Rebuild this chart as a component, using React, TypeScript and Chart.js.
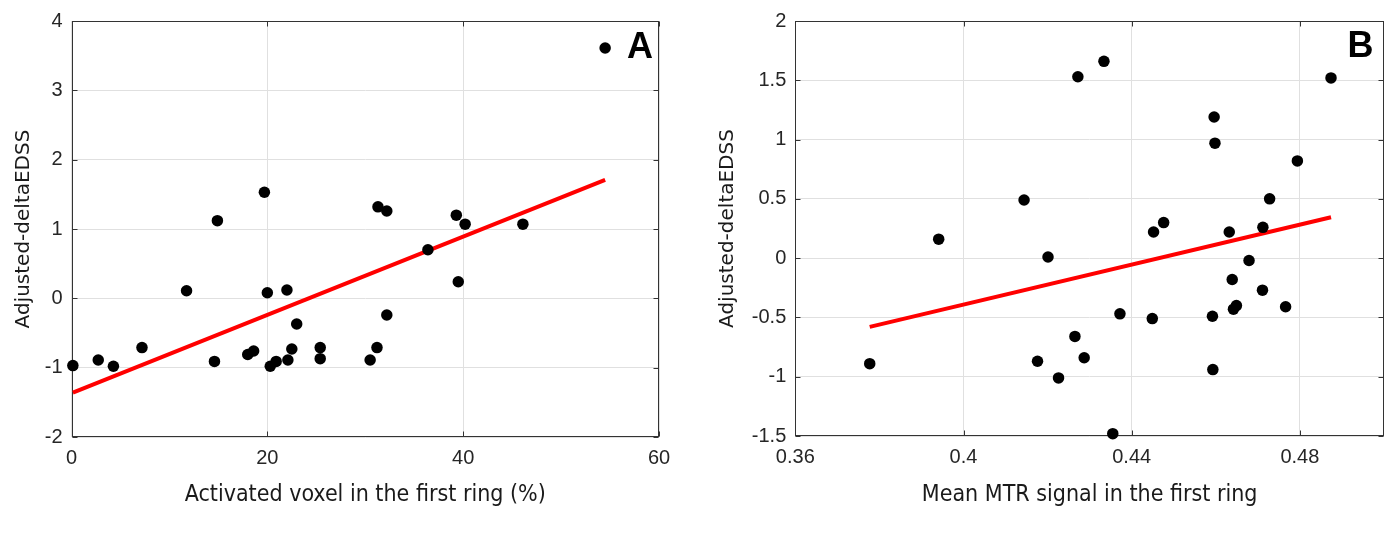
import React, { useEffect, useRef } from 'react';
import { Chart, registerables } from 'chart.js';

Chart.register(...registerables);

// ---- Panel A data ----
const activatedVoxelA = [0.14, 2.73, 4.28, 7.2, 11.75, 14.6, 14.9, 18.0, 18.6, 19.7, 20.0, 20.3, 20.9, 22.0, 22.1, 22.5, 23.0, 25.4, 25.4, 30.5, 31.2, 31.3, 32.2, 32.2, 36.4, 39.3, 39.5, 40.2, 46.1, 54.5];
const deltaEdssA = [-0.97, -0.89, -0.98, -0.71, 0.11, -0.91, 1.12, -0.81, -0.76, 1.53, 0.08, -0.98, -0.91, 0.12, -0.89, -0.73, -0.37, -0.71, -0.87, -0.89, -0.71, 1.32, 1.26, -0.24, 0.70, 1.20, 0.24, 1.07, 1.07, 3.61];
const fitXA = [0.14, 54.5];
const fitYA = [-1.36, 1.71];
const xTicksA = [0, 20, 40, 60];
const yTicksA = [-2, -1, 0, 1, 2, 3, 4];

// ---- Panel B data ----
const mtrB = [0.3777, 0.3941, 0.4144, 0.4176, 0.4201, 0.4226, 0.4265, 0.4272, 0.4287, 0.4334, 0.4355, 0.4372, 0.4449, 0.4452, 0.4476, 0.4592, 0.4593, 0.4596, 0.4598, 0.4632, 0.4639, 0.4642, 0.4649, 0.4679, 0.4711, 0.4712, 0.4728, 0.4766, 0.4794, 0.4874];
const deltaEdssB = [-0.89, 0.16, 0.49, -0.87, 0.01, -1.01, -0.66, 1.53, -0.84, 1.66, -1.48, -0.47, -0.51, 0.22, 0.30, -0.49, -0.94, 1.19, 0.97, 0.22, -0.18, -0.43, -0.40, -0.02, -0.27, 0.26, 0.50, -0.41, 0.82, 1.52];
const fitXB = [0.3777, 0.4874];
const fitYB = [-0.58, 0.345];
const xTicksB = [0.36, 0.4, 0.44, 0.48];
const yTicksB = [-1.5, -1, -0.5, 0, 0.5, 1, 1.5, 2];

const fmt = (v: number) => String(Number(v.toFixed(4)));

const TICK_FONT = { family: "'Liberation Sans', Arial, sans-serif", size: 20 };
const XTITLE_FONT = { family: "'DejaVu Sans Condensed', 'DejaVu Sans', sans-serif", size: 23 };
const YTITLE_FONT = { family: "'DejaVu Sans', sans-serif", size: 20 };

type PanelProps = {
  xs: number[];
  ys: number[];
  fitX: number[];
  fitY: number[];
  xTicks: number[];
  yTicks: number[];
  xMin: number;
  xMax: number;
  yMin: number;
  yMax: number;
  xTitle: string;
  yTitle: string;
  letter: string;
  letterInset: number;
  letterBaseline: number;
  yAxisWidth: number;
  xAxisHeight: number;
  padTop: number;
  padRight: number;
  yTitlePad: number;
};

function Panel(p: PanelProps) {
  const ref = useRef<HTMLCanvasElement | null>(null);
  useEffect(() => {
    if (!ref.current) return;
    const frame = {
      id: 'frame',
      beforeDatasetsDraw(chart: any) {
        const { ctx, chartArea: a, scales } = chart;
        ctx.save();
        ctx.strokeStyle = '#333333';
        ctx.lineWidth = 1;
        const L = Math.round(a.left) + 0.5;
        const R = Math.round(a.right) - 0.5;
        const T = Math.round(a.top) + 0.5;
        const B = Math.round(a.bottom) - 0.5;
        ctx.strokeRect(L, T, R - L, B - T);
        ctx.beginPath();
        scales.x.ticks.forEach((t: any) => {
          const px = Math.round(scales.x.getPixelForValue(t.value)) + 0.5;
          ctx.moveTo(px, B);
          ctx.lineTo(px, B - 5);
          ctx.moveTo(px, T);
          ctx.lineTo(px, T + 5);
        });
        scales.y.ticks.forEach((t: any) => {
          const py = Math.round(scales.y.getPixelForValue(t.value)) + 0.5;
          ctx.moveTo(L, py);
          ctx.lineTo(L + 5, py);
          ctx.moveTo(R, py);
          ctx.lineTo(R - 5, py);
        });
        ctx.stroke();
        ctx.restore();
      },
      afterDraw(chart: any) {
        const { ctx, chartArea: a } = chart;
        ctx.save();
        ctx.fillStyle = '#000000';
        ctx.font = "bold 36px 'Liberation Sans', Arial, sans-serif";
        ctx.textAlign = 'right';
        ctx.textBaseline = 'alphabetic';
        ctx.fillText(p.letter, a.right - p.letterInset, a.top + p.letterBaseline);
        ctx.restore();
      },
    };

    const points = p.xs.map((x, i) => ({ x, y: p.ys[i] }));
    const fit = p.fitX.map((x, i) => ({ x, y: p.fitY[i] }));

    const chart = new Chart(ref.current, {
      type: 'scatter',
      data: {
        datasets: [
          {
            data: points,
            backgroundColor: '#000000',
            borderColor: '#000000',
            borderWidth: 0,
            pointRadius: 5.75,
            pointHoverRadius: 5.75,
            clip: false as any,
            order: 0,
          },
          {
            data: fit,
            showLine: true,
            borderColor: '#ff0000',
            backgroundColor: '#ff0000',
            borderWidth: 4,
            pointRadius: 0,
            order: 1,
          } as any,
        ],
      },
      options: {
        animation: false,
        responsive: false,
        devicePixelRatio: 1,
        events: [],
        layout: { padding: { top: p.padTop, right: p.padRight, left: 0, bottom: 0 } },
        plugins: { legend: { display: false }, tooltip: { enabled: false } },
        scales: {
          x: {
            type: 'linear',
            min: p.xMin,
            max: p.xMax,
            afterBuildTicks: (s: any) => {
              s.ticks = p.xTicks.map((v) => ({ value: v }));
            },
            afterFit: (s: any) => {
              s.height = p.xAxisHeight;
            },
            grid: { color: '#e0e0e0', lineWidth: 1, drawTicks: false },
            border: { display: false },
            ticks: {
              font: TICK_FONT,
              color: '#262626',
              padding: 9,
              maxRotation: 0,
              autoSkip: false,
              callback: (v: any) => fmt(Number(v)),
            },
            title: {
              display: true,
              text: p.xTitle,
              font: XTITLE_FONT,
              color: '#1a1a1a',
              padding: { top: 0, bottom: 33 },
            },
          },
          y: {
            type: 'linear',
            min: p.yMin,
            max: p.yMax,
            afterBuildTicks: (s: any) => {
              s.ticks = p.yTicks.map((v) => ({ value: v }));
            },
            afterFit: (s: any) => {
              s.width = p.yAxisWidth;
            },
            grid: { color: '#e0e0e0', lineWidth: 1, drawTicks: false },
            border: { display: false },
            ticks: {
              font: TICK_FONT,
              color: '#262626',
              padding: 9,
              autoSkip: false,
              callback: (v: any) => fmt(Number(v)),
            },
            title: {
              display: true,
              text: p.yTitle,
              font: YTITLE_FONT,
              color: '#1a1a1a',
              padding: { top: p.yTitlePad, bottom: 0 },
            },
          },
        },
      },
      plugins: [frame as any],
    });
    return () => chart.destroy();
  }, []);
  return <canvas ref={ref} width={698} height={542} style={{ display: 'block', width: 698, height: 542 }} />;
}

export default function App() {
  return (
    <div
      style={{
        position: 'absolute',
        left: 0,
        top: 0,
        width: 1396,
        height: 542,
        display: 'flex',
        background: '#ffffff',
      }}
    >
      <Panel
        xs={activatedVoxelA}
        ys={deltaEdssA}
        fitX={fitXA}
        fitY={fitYA}
        xTicks={xTicksA}
        yTicks={yTicksA}
        xMin={0}
        xMax={60}
        yMin={-2}
        yMax={4}
        xTitle="Activated voxel in the first ring (%)"
        yTitle="Adjusted-deltaEDSS"
        letter="A"
        letterInset={6}
        letterBaseline={37}
        yAxisWidth={71.5}
        xAxisHeight={105}
        padTop={17}
        padRight={39}
        yTitlePad={12}
      />
      <Panel
        xs={mtrB}
        ys={deltaEdssB}
        fitX={fitXB}
        fitY={fitYB}
        xTicks={xTicksB}
        yTicks={yTicksB}
        xMin={0.36}
        xMax={0.5}
        yMin={-1.5}
        yMax={2}
        xTitle="Mean MTR signal in the first ring"
        yTitle="Adjusted-deltaEDSS"
        letter="B"
        letterInset={10.5}
        letterBaseline={36}
        yAxisWidth={97.3}
        xAxisHeight={106}
        padTop={16}
        padRight={12}
        yTitlePad={18}
      />
    </div>
  );
}
